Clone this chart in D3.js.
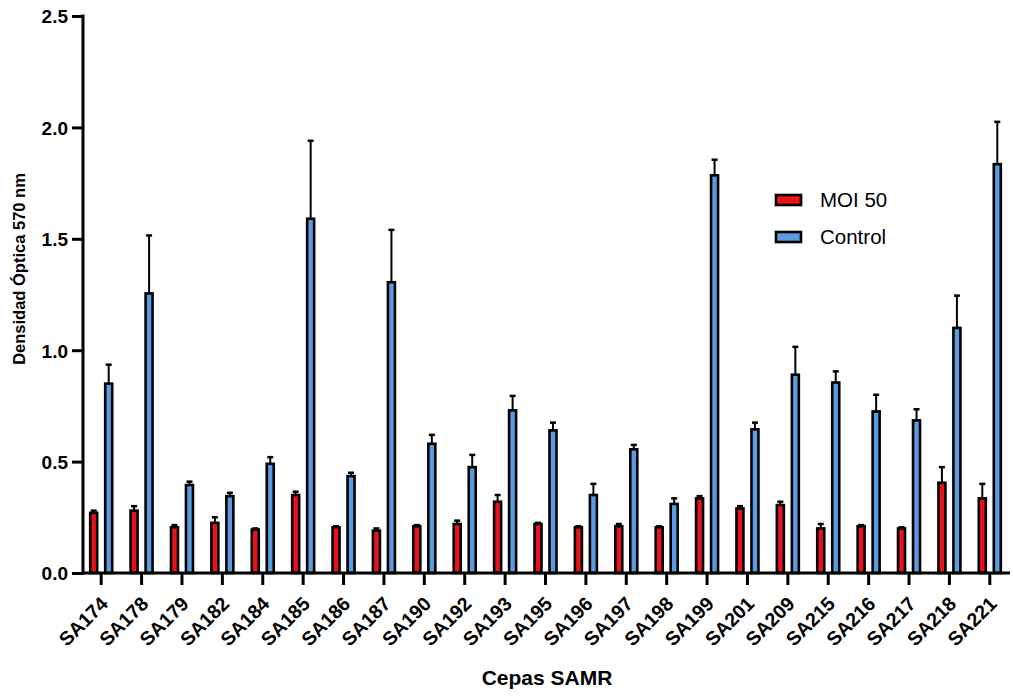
<!DOCTYPE html>
<html>
<head>
<meta charset="utf-8">
<script src="https://cdn.jsdelivr.net/npm/d3@7"></script>
<style>
  body { margin: 0; background: #fff; }
  text { font-family: "Liberation Sans", Arial, sans-serif; }
</style>
</head>
<body>
<div id="chart"></div>
<script>
// chart data
var cepas = ["SA174","SA178","SA179","SA182","SA184","SA185","SA186","SA187","SA190","SA192","SA193","SA195",
             "SA196","SA197","SA198","SA199","SA201","SA209","SA215","SA216","SA217","SA218","SA221"];
var moi50 = [0.27,0.28,0.205,0.225,0.195,0.35,0.205,0.19,0.21,0.22,0.32,0.22,0.205,0.21,0.205,0.335,0.29,0.305,0.20,0.21,0.20,0.405,0.335];
var moi50Err = [0.01,0.02,0.01,0.025,0.005,0.015,0.005,0.01,0.005,0.015,0.03,0.005,0.005,0.01,0.005,0.01,0.01,0.015,0.02,0.005,0.005,0.07,0.065];
var control = [0.85,1.255,0.395,0.345,0.49,1.59,0.435,1.305,0.58,0.475,0.73,0.64,0.35,0.555,0.31,1.785,0.645,0.89,0.855,0.725,0.685,1.10,1.835];
var controlErr = [0.085,0.26,0.015,0.015,0.03,0.35,0.015,0.235,0.04,0.055,0.065,0.035,0.05,0.02,0.025,0.07,0.03,0.125,0.05,0.075,0.05,0.145,0.19];
var yTicks = [0, 0.5, 1.0, 1.5, 2.0, 2.5];

var width = 1013, height = 698;
var svg = d3.select("#chart").append("svg")
    .attr("width", width)
    .attr("height", height);

var x = d3.scaleBand().domain(cepas).range([81, 1010]);
var y = d3.scaleLinear().domain([0, 2.5]).range([573, 16]);

var offset = 7.5, barW = 7;

// bars + error bars, one group per series
function drawSeries(vals, errs, dx, color) {
  var g = svg.append("g");
  // error bars (upper only)
  g.selectAll(".err").data(vals).enter().append("line")
    .attr("x1", function(d, i) { return x(cepas[i]) + x.bandwidth() / 2 + dx; })
    .attr("x2", function(d, i) { return x(cepas[i]) + x.bandwidth() / 2 + dx; })
    .attr("y1", function(d) { return y(d); })
    .attr("y2", function(d, i) { return y(d + errs[i]); })
    .attr("stroke", "#000").attr("stroke-width", 2);
  g.selectAll(".cap").data(vals).enter().append("line")
    .attr("x1", function(d, i) { return x(cepas[i]) + x.bandwidth() / 2 + dx - 3; })
    .attr("x2", function(d, i) { return x(cepas[i]) + x.bandwidth() / 2 + dx + 3; })
    .attr("y1", function(d, i) { return y(d + errs[i]); })
    .attr("y2", function(d, i) { return y(d + errs[i]); })
    .attr("stroke", "#000").attr("stroke-width", 2.5);
  g.selectAll(".bar").data(vals).enter().append("rect")
    .attr("x", function(d, i) { return x(cepas[i]) + x.bandwidth() / 2 + dx - barW / 2; })
    .attr("y", function(d) { return y(d); })
    .attr("width", barW)
    .attr("height", function(d) { return y(0) - y(d); })
    .attr("fill", color)
    .attr("stroke", "#000").attr("stroke-width", 2.6);
}
drawSeries(moi50, moi50Err, -offset, "#e8141a");
drawSeries(control, controlErr, offset, "#5b9bdf");

// y axis
var yAxis = svg.append("g")
  .attr("transform", "translate(83,0)")
  .call(d3.axisLeft(y).tickValues(yTicks).tickFormat(d3.format(".1f")).tickSize(11).tickSizeOuter(0));
yAxis.select(".domain").attr("stroke-width", 3).attr("d", "M0,14.5V574.5");
yAxis.selectAll(".tick line").attr("stroke-width", 3);
yAxis.selectAll(".tick text")
  .attr("font-size", 19).attr("font-weight", "bold").attr("fill", "#000").attr("x", -15).attr("dy", "0.36em");

// x axis
var xAxis = svg.append("g")
  .attr("transform", "translate(0,573)")
  .call(d3.axisBottom(x).tickSize(12).tickSizeOuter(0));
xAxis.select(".domain").attr("stroke-width", 3).attr("d", "M81.5,0H1010");
xAxis.selectAll(".tick line").attr("stroke-width", 3);
xAxis.selectAll(".tick text")
  .attr("font-size", 19.5).attr("font-weight", "bold").attr("fill", "#000")
  .attr("text-anchor", "end")
  .attr("transform", "translate(8,32) rotate(-45)")
  .attr("y", 0).attr("dy", 0);

// axis titles
svg.append("text")
  .attr("transform", "translate(25,269) rotate(-90)")
  .attr("text-anchor", "middle")
  .attr("font-size", 16.5).attr("font-weight", "bold")
  .text("Densidad Óptica 570 nm");
svg.append("text")
  .attr("x", 547).attr("y", 685)
  .attr("text-anchor", "middle")
  .attr("font-size", 21).attr("font-weight", "bold")
  .text("Cepas SAMR");

// legend
var legendItems = [{ name: "MOI 50", color: "#e8141a" }, { name: "Control", color: "#5b9bdf" }];
var legend = svg.append("g").attr("transform", "translate(776,200)");
legend.selectAll("rect").data(legendItems).enter().append("rect")
  .attr("x", 0).attr("y", function(d, i) { return i * 37 - 5; })
  .attr("width", 25).attr("height", 10)
  .attr("fill", function(d) { return d.color; })
  .attr("stroke", "#000").attr("stroke-width", 2.6);
legend.selectAll("text").data(legendItems).enter().append("text")
  .attr("x", 44).attr("y", function(d, i) { return i * 37 + 7; })
  .attr("font-size", 20.5)
  .text(function(d) { return d.name; });
</script>
</body>
</html>
